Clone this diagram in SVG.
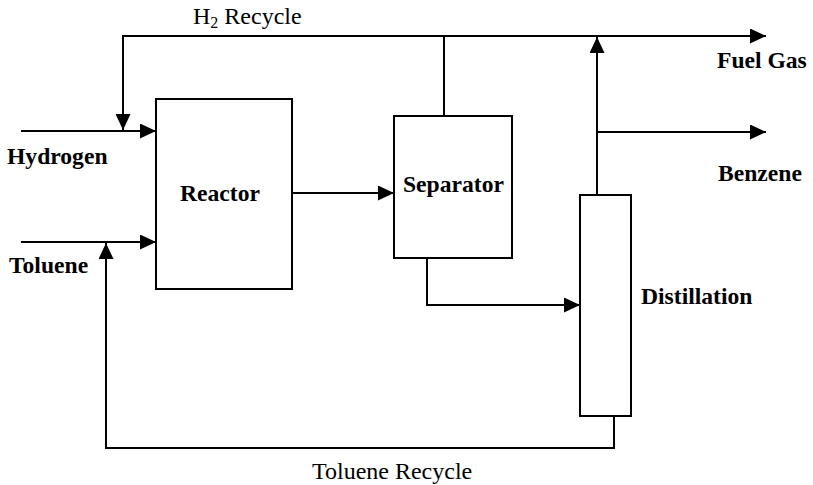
<svg xmlns="http://www.w3.org/2000/svg" width="813" height="485" viewBox="0 0 813 485">
<style>
.box{fill:#fff;stroke:#000;stroke-width:2}
.ln{fill:none;stroke:#000;stroke-width:2}
.b{font-family:"Liberation Serif","Times New Roman",serif;font-weight:bold;font-size:23.6px;fill:#000}
.r{font-family:"Liberation Serif","Times New Roman",serif;font-size:24px;fill:#000}
</style>
<defs>
<marker id="ah" markerUnits="userSpaceOnUse" markerWidth="16" markerHeight="15" refX="16" refY="7.5" orient="auto">
<path d="M0,0 L16,7.5 L0,15 z" fill="#000"/>
</marker>
</defs>
<rect width="813" height="485" fill="#fff"/>
<g id="connectors">
<path class="ln" d="M21,131 H156" marker-end="url(#ah)"/>
<path class="ln" d="M21,242 H156" marker-end="url(#ah)"/>
<path class="ln" d="M444,116 V36"/>
<path class="ln" d="M444,36 H123 V130" marker-end="url(#ah)"/>
<path class="ln" d="M444,36 H766" marker-end="url(#ah)"/>
<path class="ln" d="M597,195 V37" marker-end="url(#ah)"/>
<path class="ln" d="M597,132 H766" marker-end="url(#ah)"/>
<path class="ln" d="M292,193 H394" marker-end="url(#ah)"/>
<path class="ln" d="M427,258 V305 H580" marker-end="url(#ah)"/>
<path class="ln" d="M614,416 V448 H106 V243" marker-end="url(#ah)"/>
</g>
<g id="reactor">
<rect class="box" x="156" y="99" width="136" height="190"/>
<text class="b" x="180" y="201">Reactor</text>
</g>
<g id="separator">
<rect class="box" x="394" y="116" width="118" height="142"/>
<text class="b" x="403" y="192">Separator</text>
</g>
<g id="distillation">
<rect class="box" x="580" y="195" width="51" height="221"/>
<text class="b" x="641" y="304">Distillation</text>
</g>
<g id="labels">
<text class="b" x="7" y="164">Hydrogen</text>
<text class="b" x="9" y="273">Toluene</text>
<text class="b" x="717" y="68">Fuel Gas</text>
<text class="b" x="718" y="181">Benzene</text>
<text class="r" x="193" y="24">H<tspan font-size="16" dy="4">2</tspan><tspan dy="-4"> Recycle</tspan></text>
<text class="r" x="312" y="479">Toluene Recycle</text>
</g>
</svg>
